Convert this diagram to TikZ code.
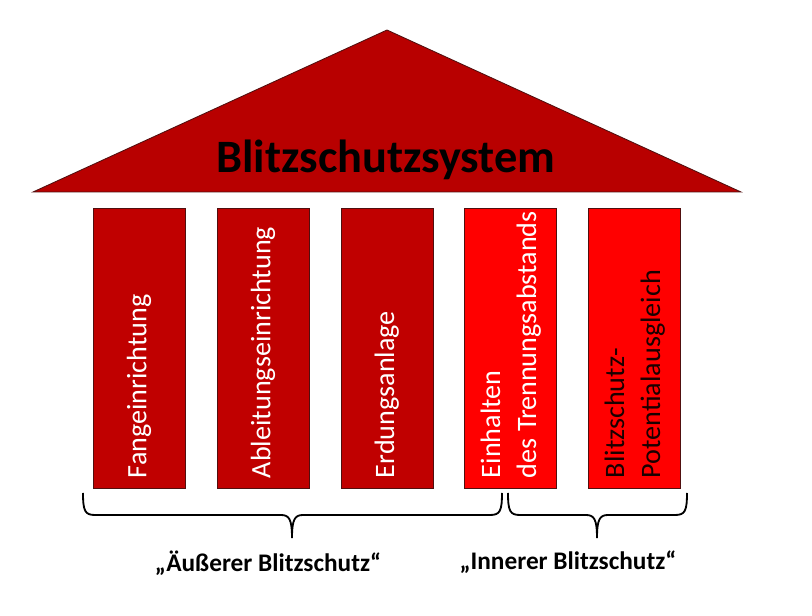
\documentclass[tikz,border=0pt]{standalone}
\usepackage{fontspec}
\setmainfont{Carlito}
\usetikzlibrary{positioning}
\definecolor{roofred}{RGB}{184,0,0}
\definecolor{pillardark}{RGB}{192,0,0}
\definecolor{pillarlight}{RGB}{255,0,0}
\definecolor{edgedark}{RGB}{80,15,15}
\begin{document}
\begin{tikzpicture}[
        x=0.025cm, y=-0.025cm,
        node distance=0.78cm,
        pillar/.style={rectangle, draw=edgedark, line width=0.5pt, minimum width=2.3cm, minimum height=7cm, inner sep=0pt},
        outer/.style={pillar, fill=pillardark},
        inner/.style={pillar, fill=pillarlight},
        pillartext/.style={rotate=90, anchor=west, align=left, inner sep=0pt, font=\fontsize{20}{25.5}\selectfont},
        brace/.style={draw=black, line width=1.3pt},
        group/.style={anchor=base, font=\bfseries\fontsize{18}{21}\selectfont}
    ]
    \useasboundingbox (0,0) rectangle (812,616);
    % Roof
    \coordinate (apex) at (387,30);
    \coordinate (eaveL) at (33,192);
    \coordinate (eaveR) at (741,192);
    \fill[roofred, draw=edgedark, line width=0.6pt] (apex) -- (eaveR) -- (eaveL) -- cycle;
    \node[anchor=base, font=\bfseries\fontsize{33}{38}\selectfont] (title) at (386,173) {Blitzschutzsystem};
    % Pillars
    \node[outer] (fang) at (139,348) {};
    \node[outer, right=of fang] (ableit) {};
    \node[outer, right=of ableit] (erd) {};
    \node[inner, right=of erd] (trenn) {};
    \node[inner, right=of trenn] (pot) {};
    % Pillar texts
    \node[pillartext, text=white] (tfang) at ([yshift=0.25cm]fang.south) {Fangeinrichtung};
    \node[pillartext, text=white] (tableit) at ([yshift=0.25cm]ableit.south) {Ableitungseinrichtung};
    \node[pillartext, text=white] (terd) at ([yshift=0.25cm]erd.south) {Erdungsanlage};
    \node[pillartext, text=white] (ttrenn) at ([yshift=0.25cm]trenn.south) {Einhalten\\des Trennungsabstands};
    \node[pillartext, text=black!90!red] (tpot) at ([yshift=0.25cm]pot.south) {Blitzschutz-\\Potentialausgleich};
    % Braces
    \draw[brace] (83,493) .. controls (83,511) and (85,515) .. (95,515) -- (281,515)
        .. controls (289,515) and (292,519) .. (292,538)
        .. controls (292,519) and (295,515) .. (303,515) -- (490,515)
        .. controls (500,515) and (502,511) .. (502,493);
    \draw[brace] (508,493) .. controls (508,511) and (510,515) .. (520,515) -- (586,515)
        .. controls (594,515) and (597,519) .. (597,538)
        .. controls (597,519) and (600,515) .. (608,515) -- (675,515)
        .. controls (685,515) and (687,511) .. (687,493);
    % Groups
    \node[group] (aussen) at (268,572) {„Äußerer Blitzschutz“};
    \node[group] (innen) at (568,570) {„Innerer Blitzschutz“};
\end{tikzpicture}
\end{document}
